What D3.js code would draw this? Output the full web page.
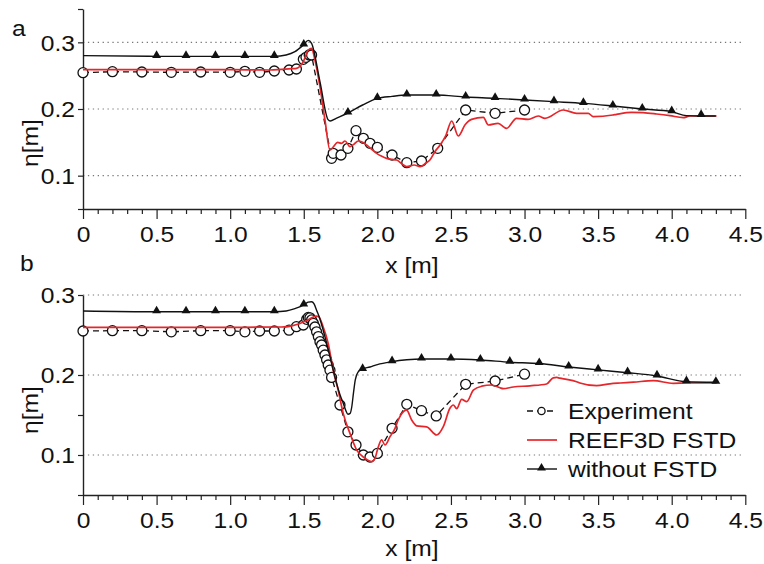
<!DOCTYPE html>
<html><head><meta charset="utf-8">
<script src="https://cdn.jsdelivr.net/npm/d3@7"></script>
<style>
body{margin:0;background:#fff;}
text{font-family:"Liberation Sans",Arial,Helvetica,sans-serif;fill:#111;}
</style></head>
<body><svg id="c" width="764" height="564"></svg>
<script>
// ---------------- data ----------------
const xTickValues = [0,0.5,1.0,1.5,2.0,2.5,3.0,3.5,4.0,4.5];
const xTickLabels = ["0","0.5","1.0","1.5","2.0","2.5","3.0","3.5","4.0","4.5"];
const yTickValues = [0.1,0.2,0.3];
const yTickLabels = ["0.1","0.2","0.3"];
const legendLabels = ["Experiment","REEF3D FSTD","without FSTD"];

// panel a
const expA_x = [0,0.2,0.4,0.6,0.8,1.0,1.1,1.2,1.3,1.4,1.45,1.497,1.515,1.537,1.553,1.689,1.70,1.753,1.80,1.855,1.905,1.95,2.0,2.1,2.2,2.3,2.41,2.6,2.8,3.0];
const expA_y = [0.2545,0.256,0.2555,0.255,0.2555,0.255,0.2565,0.255,0.257,0.2585,0.260,0.2745,0.2775,0.281,0.281,0.126,0.1335,0.131,0.141,0.1675,0.156,0.1485,0.1425,0.131,0.1195,0.122,0.141,0.1985,0.1935,0.1985];

const reefA_x = [0,1.0,1.27,1.35,1.42,1.45,1.497,1.531,1.553,1.576,1.61,1.644,1.678,1.70,1.73,1.757,1.78,1.814,1.84,1.87,1.9,1.927,1.96,1.995,2.03,2.063,2.1,2.131,2.165,2.199,2.25,2.29,2.33,2.357,2.391,2.425,2.465,2.505,2.55,2.595,2.64,2.72,2.754,2.82,2.878,2.946,3.025,3.093,3.139,3.263,3.354,3.433,3.467,3.60,3.625,3.727,3.806,3.897,3.988,4.078,4.124,4.305];
const reefA_y = [0.259,0.259,0.2585,0.2595,0.2605,0.261,0.271,0.2885,0.291,0.2735,0.2335,0.1835,0.1385,0.143,0.150,0.1485,0.152,0.1435,0.147,0.152,0.150,0.146,0.140,0.1335,0.129,0.126,0.1245,0.1235,0.118,0.1135,0.116,0.1135,0.119,0.1235,0.136,0.1455,0.160,0.182,0.1595,0.176,0.1845,0.1875,0.176,0.1785,0.171,0.186,0.1845,0.1895,0.186,0.1985,0.1935,0.1935,0.1885,0.191,0.192,0.195,0.1945,0.1925,0.190,0.187,0.1895,0.1895];

const noA_x = [0,0.5,1.0,1.3,1.38,1.44,1.497,1.531,1.553,1.61,1.665,1.68,1.72,1.8,1.9,2.0,2.1,2.2,2.4,2.6,2.8,3.0,3.2,3.4,3.6,3.8,4.0,4.1,4.2,4.3];
const noA_y = [0.280,0.279,0.279,0.279,0.281,0.286,0.296,0.303,0.2985,0.241,0.184,0.182,0.186,0.194,0.206,0.216,0.219,0.221,0.221,0.218,0.216,0.2135,0.211,0.2085,0.2045,0.200,0.196,0.190,0.1895,0.1895];
const noA_mx = [0.5,0.7,0.9,1.1,1.3,1.5,1.8,2.0,2.2,2.4,2.6,2.8,3.0,3.2,3.4,3.6,3.8,4.0,4.2];
const noA_my = [0.279,0.279,0.279,0.279,0.279,0.296,0.194,0.216,0.221,0.221,0.218,0.216,0.2135,0.211,0.2085,0.2045,0.200,0.196,0.1905];

// panel b
const expB_x = [0,0.2,0.4,0.6,0.8,1.0,1.1,1.2,1.3,1.4,1.45,1.497,1.52,1.531,1.542,1.553,1.565,1.576,1.587,1.599,1.61,1.621,1.632,1.644,1.655,1.666,1.678,1.689,1.746,1.80,1.855,1.905,1.95,2.0,2.1,2.2,2.3,2.4,2.6,2.8,3.0];
const expB_y = [0.255,0.2554,0.2554,0.254,0.2554,0.2554,0.254,0.255,0.255,0.256,0.2604,0.2625,0.2696,0.272,0.2715,0.2688,0.2646,0.260,0.254,0.248,0.2416,0.2375,0.231,0.225,0.219,0.2125,0.206,0.197,0.1625,0.129,0.1125,0.100,0.0975,0.102,0.1334,0.1634,0.1554,0.1488,0.1884,0.1925,0.201];

const reefB_x = [0,1.0,1.35,1.42,1.47,1.52,1.56,1.587,1.60,1.632,1.666,1.70,1.734,1.768,1.814,1.86,1.916,1.961,1.984,2.006,2.029,2.052,2.086,2.12,2.142,2.176,2.199,2.233,2.267,2.335,2.403,2.448,2.493,2.516,2.539,2.573,2.607,2.652,2.709,2.777,2.833,2.855,2.923,3.037,3.15,3.195,3.218,3.24,3.286,3.354,3.376,3.49,3.58,3.65,3.739,3.875,4.01,4.10,4.305];
const reefB_y = [0.2596,0.2596,0.260,0.2615,0.264,0.268,0.272,0.2737,0.273,0.260,0.2396,0.206,0.181,0.152,0.127,0.106,0.0959,0.0917,0.0959,0.110,0.1188,0.1125,0.1229,0.1334,0.1438,0.154,0.156,0.1438,0.1365,0.1352,0.125,0.1354,0.1584,0.1625,0.158,0.1696,0.1666,0.181,0.186,0.1875,0.184,0.183,0.185,0.1865,0.1888,0.1965,0.197,0.196,0.1946,0.1916,0.190,0.1866,0.189,0.190,0.191,0.193,0.1896,0.190,0.190];

const noB_x = [0,0.5,1.3,1.38,1.44,1.5,1.53,1.553,1.57,1.587,1.61,1.632,1.655,1.678,1.70,1.723,1.745,1.768,1.785,1.80,1.815,1.826,1.838,1.85,1.87,1.893,1.95,2.0,2.097,2.2,2.3,2.5,2.7,2.9,3.1,3.3,3.5,3.7,3.9,4.1,4.3];
const noB_y = [0.280,0.279,0.279,0.280,0.283,0.2875,0.291,0.2916,0.289,0.281,0.270,0.256,0.240,0.223,0.206,0.1896,0.176,0.1646,0.156,0.151,0.152,0.160,0.178,0.194,0.204,0.207,0.210,0.213,0.2166,0.219,0.220,0.220,0.2187,0.216,0.2143,0.210,0.2064,0.2029,0.1988,0.1916,0.1909];
const noB_mx = [0.5,0.7,0.9,1.1,1.3,1.5,1.9,2.1,2.3,2.5,2.7,2.9,3.1,3.3,3.5,3.7,3.9,4.1,4.3];
const noB_my = [0.279,0.279,0.279,0.279,0.279,0.2875,0.207,0.2166,0.220,0.220,0.2187,0.216,0.2143,0.210,0.2064,0.2029,0.1988,0.1916,0.1909];

// ---------------- drawing ----------------
const svg = d3.select("#c");
const RED = "#e5262b";
const SX = 1.12; // horizontal stretch of text
const zip = (xs, ys) => xs.map((x, i) => [x, ys[i]]);

function panel(opt) {
  const x = d3.scaleLinear().domain([0, 4.5]).range([83, 745.3]);
  const y = d3.scaleLinear().domain(opt.yDomain).range(opt.yRange);
  const g = svg.append("g");

  // grid
  g.append("g").selectAll("line").data(yTickValues).join("line")
    .attr("x1", x(0)).attr("x2", x(4.48))
    .attr("y1", d => y(d)).attr("y2", d => y(d))
    .attr("stroke", "#777").attr("stroke-width", 1.1)
    .attr("stroke-dasharray", "1.3,3.6");

  // x axis minor ticks
  const xMinor = d3.range(0, 46).map(i => i / 10).filter(v => Math.abs(v * 2 - Math.round(v * 2)) > 1e-6);
  g.append("g").attr("transform", `translate(0,${opt.yRange[0]})`)
    .call(d3.axisBottom(x).tickValues(xMinor).tickSize(5).tickFormat(""))
    .call(a => a.select(".domain").remove())
    .call(a => a.selectAll("line").attr("stroke", "#222").attr("stroke-width", 1.2));
  // x axis major
  const xa = g.append("g").attr("transform", `translate(0,${opt.yRange[0]})`)
    .call(d3.axisBottom(x).tickValues(xTickValues).tickSize(10).tickSizeOuter(0)
      .tickFormat((d, i) => xTickLabels[i]));
  xa.select(".domain").attr("stroke", "#222").attr("stroke-width", 1.4);
  xa.selectAll("line").attr("stroke", "#222").attr("stroke-width", 1.2);
  xa.selectAll("text").attr("y", 0).attr("dy", null)
    .attr("transform", `translate(0,33) scale(${SX},1)`)
    .style("font-size", "22px").style("font-family", "Liberation Sans, Arial, sans-serif").attr("fill", "#111");

  // y axis
  const ya = g.append("g").attr("transform", `translate(83,0)`)
    .call(d3.axisLeft(y).tickValues(opt.yTicks).tickSize(5).tickSizeOuter(0)
      .tickFormat(d => { const i = yTickValues.findIndex(v => Math.abs(v - d) < 1e-9); return i >= 0 ? yTickLabels[i] : ""; }));
  ya.select(".domain").attr("stroke", "#222").attr("stroke-width", 1.4);
  ya.selectAll("line").attr("stroke", "#222").attr("stroke-width", 1.2);
  ya.selectAll("text").attr("x", null).attr("dy", "0.35em")
    .attr("transform", `translate(-8,0) scale(${SX},1)`)
    .style("font-size", "22px").style("font-family", "Liberation Sans, Arial, sans-serif").attr("fill", "#111");

  // labels
  g.append("text").attr("transform", `translate(${opt.letterX},${opt.letterY}) scale(${SX},1)`)
    .style("font-size", "22px").text(opt.letter);
  g.append("text").attr("transform", `translate(412,${opt.xlabY}) scale(${SX},1)`)
    .attr("text-anchor", "middle").style("font-size", "22px").text("x [m]");
  g.append("text").attr("transform", `translate(38,${opt.ylabY}) rotate(-90) scale(${SX},1)`)
    .attr("text-anchor", "middle").style("font-size", "22px").text("η[m]");

  const line = d3.line().x(d => x(d[0])).y(d => y(d[1])).curve(d3.curveMonotoneX);

  // experiment
  const ed = zip(opt.ex, opt.ey);
  g.append("path").datum(ed).attr("d", d3.line().x(d => x(d[0])).y(d => y(d[1])))
    .attr("fill", "none").attr("stroke", "#111").attr("stroke-width", 1.3).attr("stroke-dasharray", "6,4");
  g.append("g").selectAll("circle").data(ed).join("circle")
    .attr("cx", d => x(d[0])).attr("cy", d => y(d[1])).attr("r", 5)
    .attr("fill", "#fff").attr("stroke", "#111").attr("stroke-width", 1.3);

  // REEF3D
  g.append("path").datum(zip(opt.rx, opt.ry)).attr("d", line)
    .attr("fill", "none").attr("stroke", RED).attr("stroke-width", 1.7);

  // without FSTD
  g.append("path").datum(zip(opt.nx, opt.ny)).attr("d", line)
    .attr("fill", "none").attr("stroke", "#111").attr("stroke-width", 1.4);
  const tri = d3.symbol().type(d3.symbolTriangle).size(34);
  g.append("g").selectAll("path").data(zip(opt.mx, opt.my)).join("path")
    .attr("d", tri).attr("transform", d => `translate(${x(d[0])},${y(d[1]) - 1})`)
    .attr("fill", "#111");
  return { x, y, g };
}

panel({ yDomain: [0.05, 0.35], yRange: [209, 9], yTicks: [0.05, 0.1, 0.2, 0.3, 0.35],
  letter: "a", letterX: 12, letterY: 36, xlabY: 273, ylabY: 143,
  ex: expA_x, ey: expA_y, rx: reefA_x, ry: reefA_y, nx: noA_x, ny: noA_y, mx: noA_mx, my: noA_my });

panel({ yDomain: [0.05, 0.3], yRange: [495, 295], yTicks: [0.05, 0.1, 0.15, 0.2, 0.3],
  letter: "b", letterX: 20, letterY: 271, xlabY: 556, ylabY: 410,
  ex: expB_x, ey: expB_y, rx: reefB_x, ry: reefB_y, nx: noB_x, ny: noB_y, mx: noB_mx, my: noB_my });

// legend
const lg = svg.append("g");
const ly = [411, 440, 469];
lg.append("line").attr("x1", 527).attr("x2", 556).attr("y1", ly[0]).attr("y2", ly[0])
  .attr("stroke", "#111").attr("stroke-width", 1.3).attr("stroke-dasharray", "6,4");
lg.append("circle").attr("cx", 541.5).attr("cy", ly[0]).attr("r", 3.6)
  .attr("fill", "#fff").attr("stroke", "#111").attr("stroke-width", 1.3);
lg.append("line").attr("x1", 527).attr("x2", 557).attr("y1", ly[1]).attr("y2", ly[1])
  .attr("stroke", RED).attr("stroke-width", 1.7);
lg.append("line").attr("x1", 527).attr("x2", 557).attr("y1", ly[2]).attr("y2", ly[2])
  .attr("stroke", "#111").attr("stroke-width", 1.4);
lg.append("path").attr("d", d3.symbol().type(d3.symbolTriangle).size(34))
  .attr("transform", `translate(541.5,${ly[2] - 1})`).attr("fill", "#111");
lg.selectAll("text").data(legendLabels).join("text")
  .attr("transform", (d, i) => `translate(568,${ly[i] + 7.5}) scale(${SX},1)`)
  .style("font-size", "22px").text(d => d);
</script></body></html>
